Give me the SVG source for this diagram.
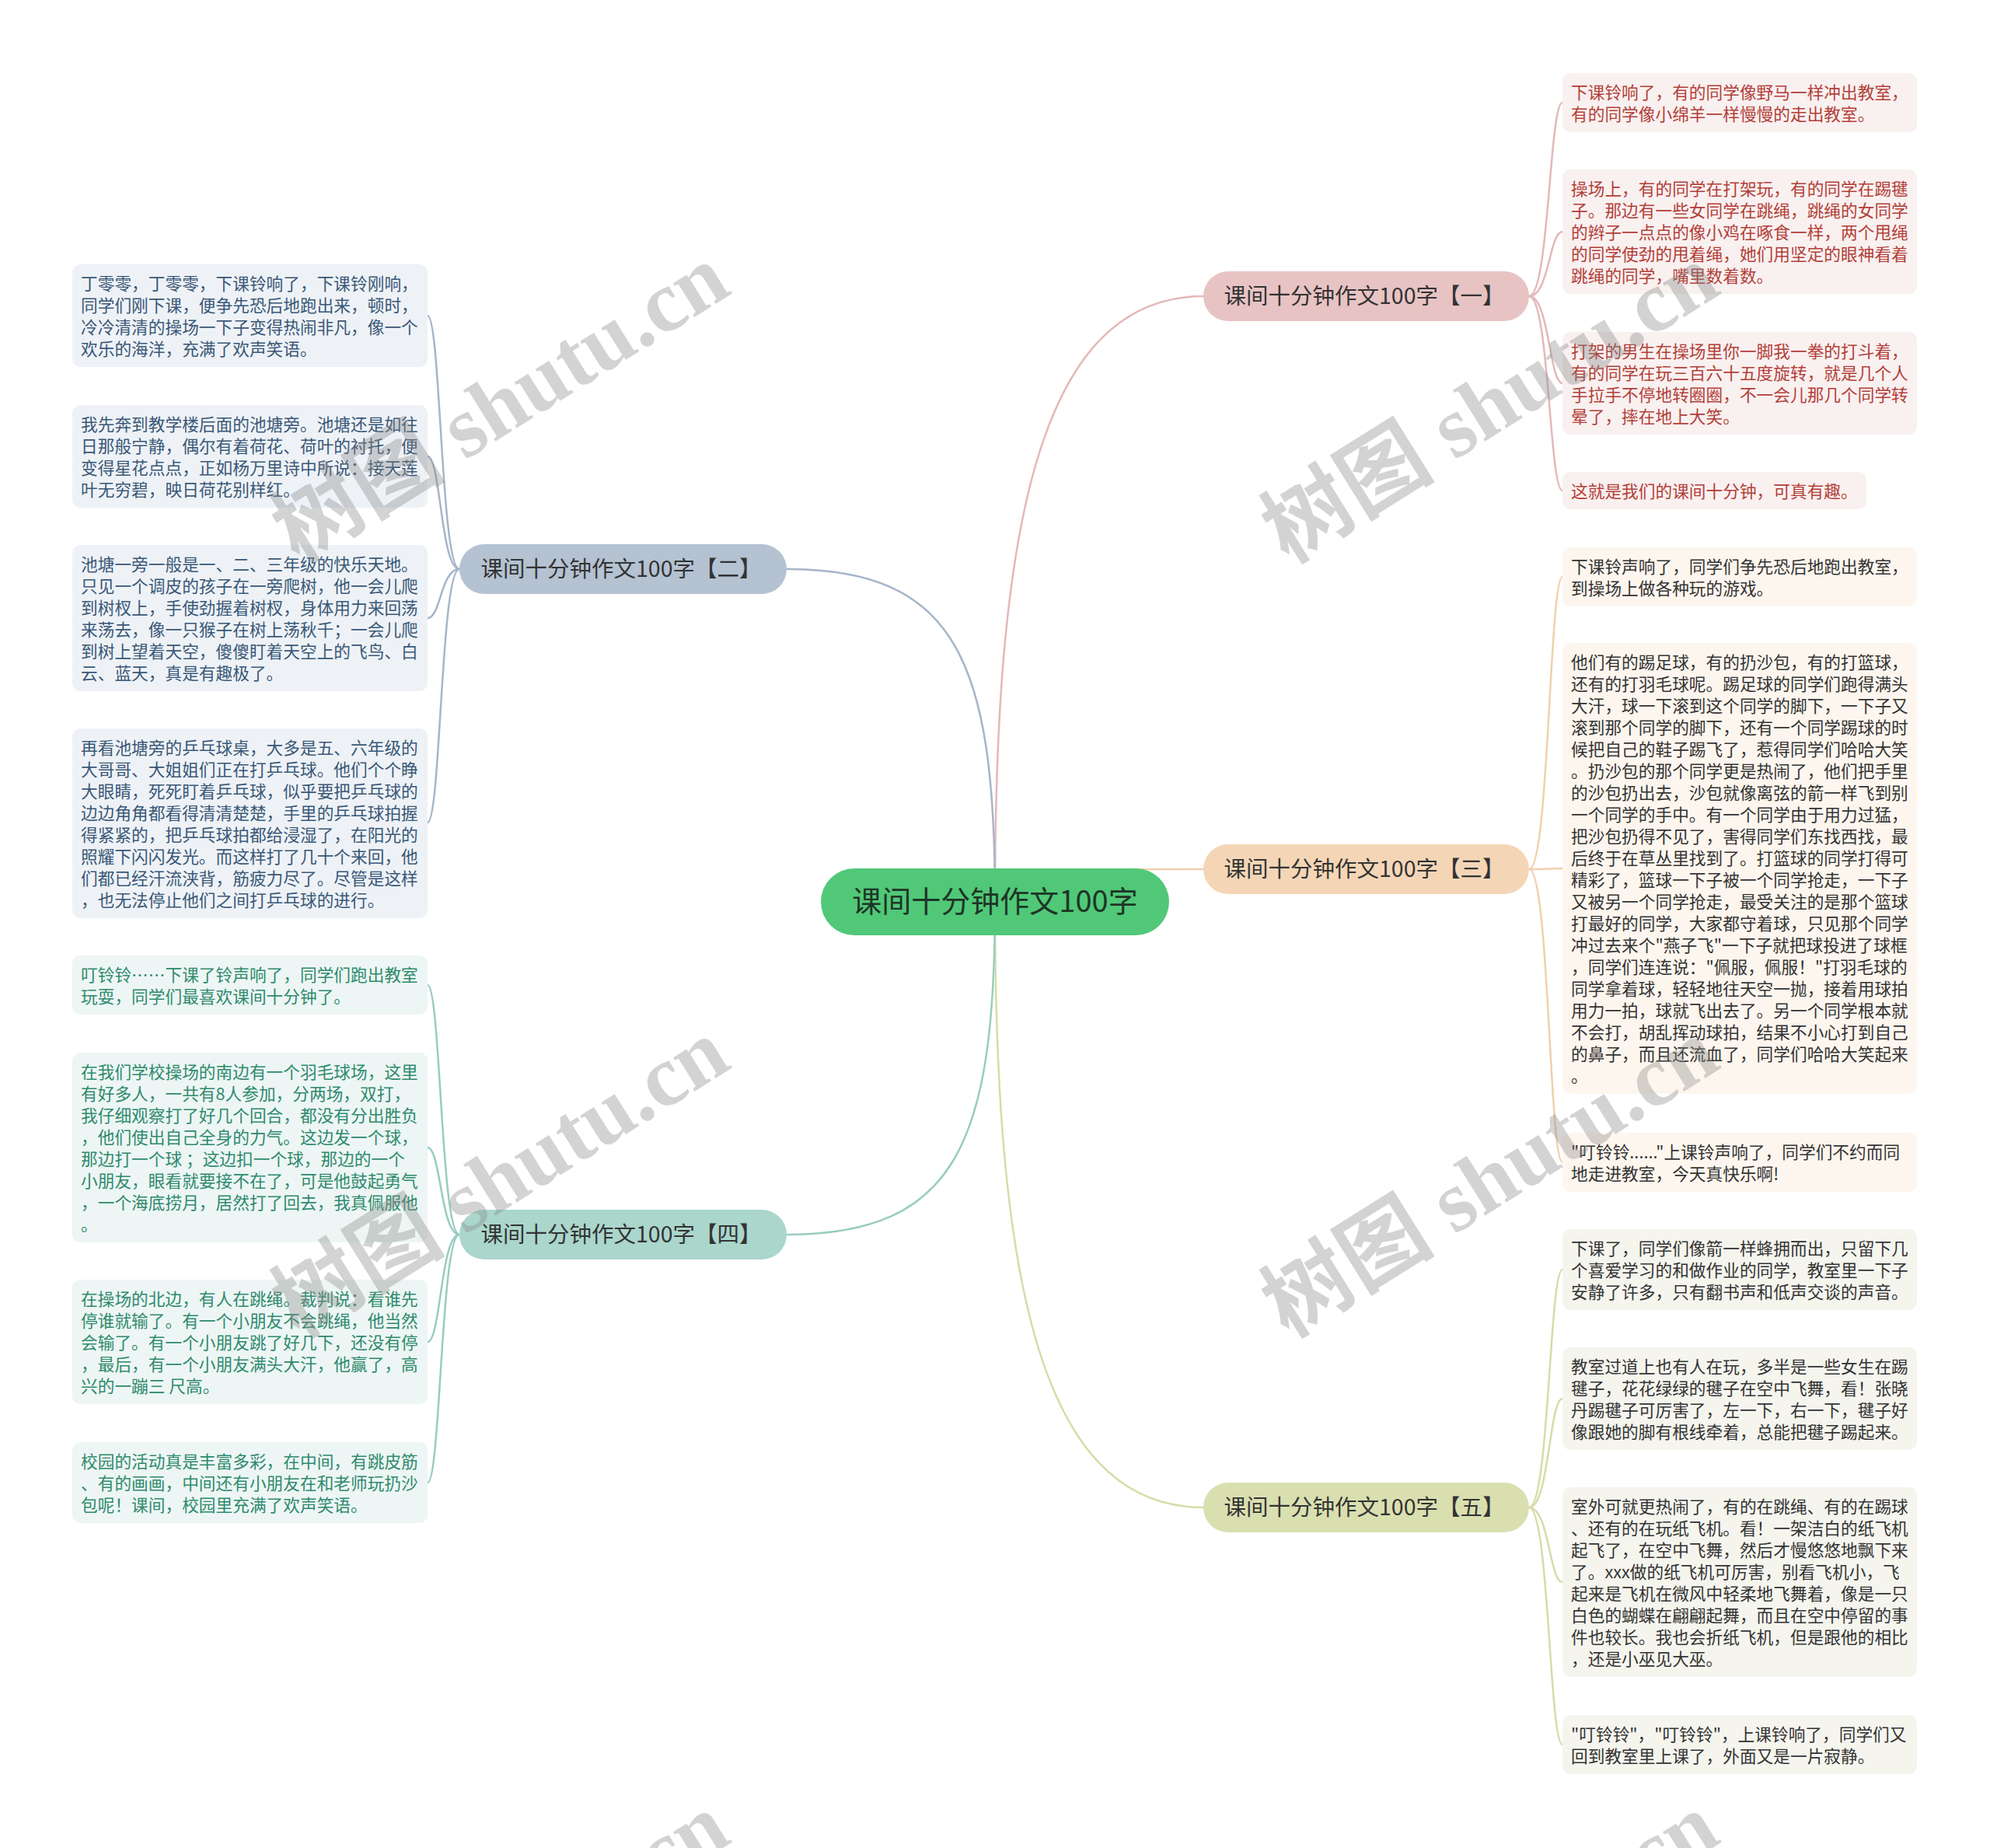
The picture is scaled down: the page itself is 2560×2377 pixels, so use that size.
<svg xmlns="http://www.w3.org/2000/svg" width="2560" height="2377" viewBox="0 0 2560 2377">
<style>
text{font-family:"Noto Sans CJK SC","Noto Sans",sans-serif}
.lf{font-size:21.7px}
.br{font-size:28.5px;fill:#333;text-anchor:middle}
.rt{font-size:38px;fill:#1e3526;text-anchor:middle}
.c{fill:none;stroke-width:2.5}
.g1 rect{fill:#f9f0f0}.g1 text{fill:#b23f38}
.g2 rect{fill:#eef2f6}.g2 text{fill:#3a5878}
.g3 rect{fill:#fdf6ee}.g3 text{fill:#333}
.g4 rect{fill:#edf6f4}.g4 text{fill:#2f8a6e}
.g5 rect{fill:#f5f5ee}.g5 text{fill:#333}
.wm{font-family:"Liberation Serif","Noto Sans CJK SC",serif;font-weight:bold;font-size:112px;fill:#888;opacity:0.36}
</style>
<rect width="2560" height="2377" fill="#fff"/>
<g id="connectors">
<path class="c" stroke="#e4b8b8" d="M1280,1160 C1280,700 1330,381 1548,381"/>
<path class="c" stroke="#f0d0ac" d="M1280,1160 C1280,1118 1300,1118 1548,1118"/>
<path class="c" stroke="#d6dca8" d="M1280,1160 C1280,1620 1330,1939 1548,1939"/>
<path class="c" stroke="#a6b6c8" d="M1280,1160 C1280,850 1230,732 1012,732"/>
<path class="c" stroke="#98ccc0" d="M1280,1160 C1280,1470 1230,1588 1012,1588"/>
<g stroke="#e4b8b8" class="c">
<path d="M1967,381 C1993,381 1993,132 2010,132"/>
<path d="M1967,381 C1993,381 1993,298 2010,298"/>
<path d="M1967,381 C1993,381 1993,493 2010,493"/>
<path d="M1967,381 C1993,381 1993,631 2010,631"/>
</g>
<g stroke="#f0d0ac" class="c">
<path d="M1967,1118 C1993,1118 1993,742 2010,742"/>
<path d="M1967,1118 C1993,1118 1993,1117 2010,1117"/>
<path d="M1967,1118 C1993,1118 1993,1495 2010,1495"/>
</g>
<g stroke="#d6dca8" class="c">
<path d="M1967,1939 C1993,1939 1993,1633 2010,1633"/>
<path d="M1967,1939 C1993,1939 1993,1799 2010,1799"/>
<path d="M1967,1939 C1993,1939 1993,2035 2010,2035"/>
<path d="M1967,1939 C1993,1939 1993,2244 2010,2244"/>
</g>
<g stroke="#a6b6c8" class="c">
<path d="M591,732 C567,732 567,406 550,406"/>
<path d="M591,732 C567,732 567,587 550,587"/>
<path d="M591,732 C567,732 567,795 550,795"/>
<path d="M591,732 C567,732 567,1058 550,1058"/>
</g>
<g stroke="#98ccc0" class="c">
<path d="M591,1588 C567,1588 567,1267 550,1267"/>
<path d="M591,1588 C567,1588 567,1476 550,1476"/>
<path d="M591,1588 C567,1588 567,1726 550,1726"/>
<path d="M591,1588 C567,1588 567,1907 550,1907"/>
</g>
</g>
<g id="root"><rect x="1056" y="1117" width="448" height="86" rx="43" fill="#50c878"/><text class="rt" x="1280" y="1173">课间十分钟作文100字</text></g>
<g id="b1"><rect x="1548" y="349" width="419" height="64" rx="32" fill="#e8c3c3"/><text class="br" x="1755" y="391">课间十分钟作文100字【一】</text></g>
<g id="b3"><rect x="1548" y="1086" width="419" height="64" rx="32" fill="#f4d6b6"/><text class="br" x="1755" y="1128">课间十分钟作文100字【三】</text></g>
<g id="b5"><rect x="1548" y="1907" width="419" height="64" rx="32" fill="#dadfb0"/><text class="br" x="1755" y="1949">课间十分钟作文100字【五】</text></g>
<g id="b2"><rect x="591" y="700" width="421" height="64" rx="32" fill="#b4c2d2"/><text class="br" x="799" y="742">课间十分钟作文100字【二】</text></g>
<g id="b4"><rect x="591" y="1556" width="421" height="64" rx="32" fill="#aad6cc"/><text class="br" x="799" y="1598">课间十分钟作文100字【四】</text></g>

<g class="g1">
<g id="l1a"><rect x="2010" y="94" width="456" height="76" rx="10"/><text class="lf"><tspan x="2021" y="127">下课铃响了，有的同学像野马一样冲出教室，</tspan><tspan x="2021" y="155">有的同学像小绵羊一样慢慢的走出教室。</tspan></text></g>
<g id="l1b"><rect x="2010" y="218" width="456" height="160" rx="10"/><text class="lf"><tspan x="2021" y="251">操场上，有的同学在打架玩，有的同学在踢毽</tspan><tspan x="2021" y="279">子。那边有一些女同学在跳绳，跳绳的女同学</tspan><tspan x="2021" y="307">的辫子一点点的像小鸡在啄食一样，两个甩绳</tspan><tspan x="2021" y="335">的同学使劲的甩着绳，她们用坚定的眼神看着</tspan><tspan x="2021" y="363">跳绳的同学，嘴里数着数。</tspan></text></g>
<g id="l1c"><rect x="2010" y="427" width="456" height="132" rx="10"/><text class="lf"><tspan x="2021" y="460">打架的男生在操场里你一脚我一拳的打斗着，</tspan><tspan x="2021" y="488">有的同学在玩三百六十五度旋转，就是几个人</tspan><tspan x="2021" y="516">手拉手不停地转圈圈，不一会儿那几个同学转</tspan><tspan x="2021" y="544">晕了，摔在地上大笑。</tspan></text></g>
<g id="l1d"><rect x="2010" y="607" width="391" height="48" rx="10"/><text class="lf"><tspan x="2021" y="640">这就是我们的课间十分钟，可真有趣。</tspan></text></g>
</g>

<g class="g3">
<g id="l3a"><rect x="2010" y="704" width="456" height="76" rx="10"/><text class="lf"><tspan x="2021" y="737">下课铃声响了，同学们争先恐后地跑出教室，</tspan><tspan x="2021" y="765">到操场上做各种玩的游戏。</tspan></text></g>
<g id="l3b"><rect x="2010" y="827" width="456" height="580" rx="10"/><text class="lf"><tspan x="2021" y="860">他们有的踢足球，有的扔沙包，有的打篮球，</tspan><tspan x="2021" y="888">还有的打羽毛球呢。踢足球的同学们跑得满头</tspan><tspan x="2021" y="916">大汗，球一下滚到这个同学的脚下，一下子又</tspan><tspan x="2021" y="944">滚到那个同学的脚下，还有一个同学踢球的时</tspan><tspan x="2021" y="972">候把自己的鞋子踢飞了，惹得同学们哈哈大笑</tspan><tspan x="2021" y="1000">。扔沙包的那个同学更是热闹了，他们把手里</tspan><tspan x="2021" y="1028">的沙包扔出去，沙包就像离弦的箭一样飞到别</tspan><tspan x="2021" y="1056">一个同学的手中。有一个同学由于用力过猛，</tspan><tspan x="2021" y="1084">把沙包扔得不见了，害得同学们东找西找，最</tspan><tspan x="2021" y="1112">后终于在草丛里找到了。打篮球的同学打得可</tspan><tspan x="2021" y="1140">精彩了，篮球一下子被一个同学抢走，一下子</tspan><tspan x="2021" y="1168">又被另一个同学抢走，最受关注的是那个篮球</tspan><tspan x="2021" y="1196">打最好的同学，大家都守着球，只见那个同学</tspan><tspan x="2021" y="1224">冲过去来个"燕子飞"一下子就把球投进了球框</tspan><tspan x="2021" y="1252">，同学们连连说："佩服，佩服！"打羽毛球的</tspan><tspan x="2021" y="1280">同学拿着球，轻轻地往天空一抛，接着用球拍</tspan><tspan x="2021" y="1308">用力一拍，球就飞出去了。另一个同学根本就</tspan><tspan x="2021" y="1336">不会打，胡乱挥动球拍，结果不小心打到自己</tspan><tspan x="2021" y="1364">的鼻子，而且还流血了，同学们哈哈大笑起来</tspan><tspan x="2021" y="1392">。</tspan></text></g>
<g id="l3c"><rect x="2010" y="1457" width="456" height="76" rx="10"/><text class="lf"><tspan x="2021" y="1490">"叮铃铃......"上课铃声响了，同学们不约而同</tspan><tspan x="2021" y="1518">地走进教室，今天真快乐啊!</tspan></text></g>
</g>

<g class="g5">
<g id="l5a"><rect x="2010" y="1581" width="456" height="104" rx="10"/><text class="lf"><tspan x="2021" y="1614">下课了，同学们像箭一样蜂拥而出，只留下几</tspan><tspan x="2021" y="1642">个喜爱学习的和做作业的同学，教室里一下子</tspan><tspan x="2021" y="1670">安静了许多，只有翻书声和低声交谈的声音。</tspan></text></g>
<g id="l5b"><rect x="2010" y="1733" width="456" height="132" rx="10"/><text class="lf"><tspan x="2021" y="1766">教室过道上也有人在玩，多半是一些女生在踢</tspan><tspan x="2021" y="1794">毽子，花花绿绿的毽子在空中飞舞，看！张晓</tspan><tspan x="2021" y="1822">丹踢毽子可厉害了，左一下，右一下，毽子好</tspan><tspan x="2021" y="1850">像跟她的脚有根线牵着，总能把毽子踢起来。</tspan></text></g>
<g id="l5c"><rect x="2010" y="1913" width="456" height="244" rx="10"/><text class="lf"><tspan x="2021" y="1946">室外可就更热闹了，有的在跳绳、有的在踢球</tspan><tspan x="2021" y="1974">、还有的在玩纸飞机。看！一架洁白的纸飞机</tspan><tspan x="2021" y="2002">起飞了，在空中飞舞，然后才慢悠悠地飘下来</tspan><tspan x="2021" y="2030">了。xxx做的纸飞机可厉害，别看飞机小，飞</tspan><tspan x="2021" y="2058">起来是飞机在微风中轻柔地飞舞着，像是一只</tspan><tspan x="2021" y="2086">白色的蝴蝶在翩翩起舞，而且在空中停留的事</tspan><tspan x="2021" y="2114">件也较长。我也会折纸飞机，但是跟他的相比</tspan><tspan x="2021" y="2142">，还是小巫见大巫。</tspan></text></g>
<g id="l5d"><rect x="2010" y="2206" width="456" height="76" rx="10"/><text class="lf"><tspan x="2021" y="2239">"叮铃铃"，"叮铃铃"，上课铃响了，同学们又</tspan><tspan x="2021" y="2267">回到教室里上课了，外面又是一片寂静。</tspan></text></g>
</g>

<g class="g2">
<g id="l2a"><rect x="93" y="340" width="457" height="132" rx="10"/><text class="lf"><tspan x="104" y="373">丁零零，丁零零，下课铃响了，下课铃刚响，</tspan><tspan x="104" y="401">同学们刚下课，便争先恐后地跑出来，顿时，</tspan><tspan x="104" y="429">冷冷清清的操场一下子变得热闹非凡，像一个</tspan><tspan x="104" y="457">欢乐的海洋，充满了欢声笑语。</tspan></text></g>
<g id="l2b"><rect x="93" y="521" width="457" height="132" rx="10"/><text class="lf"><tspan x="104" y="554">我先奔到教学楼后面的池塘旁。池塘还是如往</tspan><tspan x="104" y="582">日那般宁静，偶尔有着荷花、荷叶的衬托，便</tspan><tspan x="104" y="610">变得星花点点，正如杨万里诗中所说：接天莲</tspan><tspan x="104" y="638">叶无穷碧，映日荷花别样红。</tspan></text></g>
<g id="l2c"><rect x="93" y="701" width="457" height="188" rx="10"/><text class="lf"><tspan x="104" y="734">池塘一旁一般是一、二、三年级的快乐天地。</tspan><tspan x="104" y="762">只见一个调皮的孩子在一旁爬树，他一会儿爬</tspan><tspan x="104" y="790">到树杈上，手使劲握着树杈，身体用力来回荡</tspan><tspan x="104" y="818">来荡去，像一只猴子在树上荡秋千；一会儿爬</tspan><tspan x="104" y="846">到树上望着天空，傻傻盯着天空上的飞鸟、白</tspan><tspan x="104" y="874">云、蓝天，真是有趣极了。</tspan></text></g>
<g id="l2d"><rect x="93" y="937" width="457" height="244" rx="10"/><text class="lf"><tspan x="104" y="970">再看池塘旁的乒乓球桌，大多是五、六年级的</tspan><tspan x="104" y="998">大哥哥、大姐姐们正在打乒乓球。他们个个睁</tspan><tspan x="104" y="1026">大眼睛，死死盯着乒乓球，似乎要把乒乓球的</tspan><tspan x="104" y="1054">边边角角都看得清清楚楚，手里的乒乓球拍握</tspan><tspan x="104" y="1082">得紧紧的，把乒乓球拍都给浸湿了，在阳光的</tspan><tspan x="104" y="1110">照耀下闪闪发光。而这样打了几十个来回，他</tspan><tspan x="104" y="1138">们都已经汗流浃背，筋疲力尽了。尽管是这样</tspan><tspan x="104" y="1166">，也无法停止他们之间打乒乓球的进行。</tspan></text></g>
</g>

<g class="g4">
<g id="l4a"><rect x="93" y="1229" width="457" height="76" rx="10"/><text class="lf"><tspan x="104" y="1262">叮铃铃……下课了铃声响了，同学们跑出教室</tspan><tspan x="104" y="1290">玩耍，同学们最喜欢课间十分钟了。</tspan></text></g>
<g id="l4b"><rect x="93" y="1354" width="457" height="244" rx="10"/><text class="lf"><tspan x="104" y="1387">在我们学校操场的南边有一个羽毛球场，这里</tspan><tspan x="104" y="1415">有好多人，一共有8人参加，分两场，双打，</tspan><tspan x="104" y="1443">我仔细观察打了好几个回合，都没有分出胜负</tspan><tspan x="104" y="1471">，他们使出自己全身的力气。这边发一个球，</tspan><tspan x="104" y="1499">那边打一个球 ；这边扣一个球，那边的一个</tspan><tspan x="104" y="1527">小朋友，眼看就要接不在了，可是他鼓起勇气</tspan><tspan x="104" y="1555">，一个海底捞月，居然打了回去，我真佩服他</tspan><tspan x="104" y="1583">。</tspan></text></g>
<g id="l4c"><rect x="93" y="1646" width="457" height="160" rx="10"/><text class="lf"><tspan x="104" y="1679">在操场的北边，有人在跳绳。裁判说：看谁先</tspan><tspan x="104" y="1707">停谁就输了。有一个小朋友不会跳绳，他当然</tspan><tspan x="104" y="1735">会输了。有一个小朋友跳了好几下，还没有停</tspan><tspan x="104" y="1763">，最后，有一个小朋友满头大汗，他赢了，高</tspan><tspan x="104" y="1791">兴的一蹦三 尺高。</tspan></text></g>
<g id="l4d"><rect x="93" y="1855" width="457" height="104" rx="10"/><text class="lf"><tspan x="104" y="1888">校园的活动真是丰富多彩，在中间，有跳皮筋</tspan><tspan x="104" y="1916">、有的画画，中间还有小朋友在和老师玩扔沙</tspan><tspan x="104" y="1944">包呢！课间，校园里充满了欢声笑语。</tspan></text></g>
</g>

<g id="watermarks">
<text class="wm" transform="translate(384,726) rotate(-32)">树图 shutu.cn</text>
<text class="wm" transform="translate(1657,726) rotate(-32)">树图 shutu.cn</text>
<text class="wm" transform="translate(384,1722) rotate(-32)">树图 shutu.cn</text>
<text class="wm" transform="translate(1657,1722) rotate(-32)">树图 shutu.cn</text>
<text class="wm" transform="translate(384,2718) rotate(-32)">树图 shutu.cn</text>
<text class="wm" transform="translate(1657,2718) rotate(-32)">树图 shutu.cn</text>
</g>
</svg>
